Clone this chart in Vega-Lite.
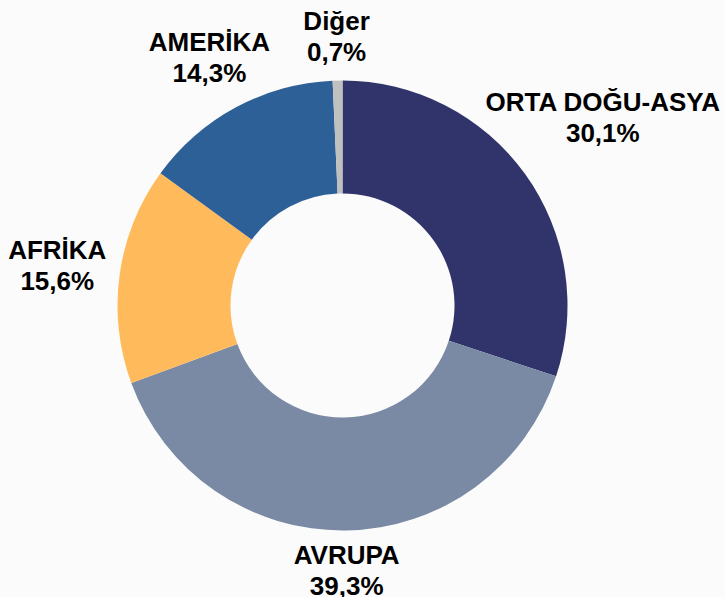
{
  "$schema": "https://vega.github.io/schema/vega-lite/v6.json",
  "autosize": {"type": "none"},
  "width": 685,
  "height": 611,
  "padding": {"left": 0, "top": 0, "right": 40, "bottom": 0},
  "background": "#fbfbfb",
  "config": {"view": {"stroke": null}},
  "data": {
    "values": [
      {"sira": 1, "bolge": "ORTA DOĞU-ASYA", "pay": 30.1, "etiket": "ORTA DOĞU-ASYA\n30,1%"},
      {"sira": 2, "bolge": "AVRUPA", "pay": 39.3, "etiket": "AVRUPA\n39,3%"},
      {"sira": 3, "bolge": "AFRİKA", "pay": 15.6, "etiket": "AFRİKA\n15,6%"},
      {"sira": 4, "bolge": "AMERİKA", "pay": 14.3, "etiket": "AMERİKA\n14,3%"},
      {"sira": 5, "bolge": "Diğer", "pay": 0.7, "etiket": "Diğer\n0,7%"}
    ]
  },
  "encoding": {
    "theta": {"field": "pay", "type": "quantitative", "stack": true},
    "order": {"field": "sira", "type": "quantitative"}
  },
  "layer": [
    {
      "mark": {"type": "arc", "outerRadius": 225, "innerRadius": 112},
      "encoding": {
        "color": {
          "field": "bolge",
          "type": "nominal",
          "legend": null,
          "scale": {
            "domain": ["ORTA DOĞU-ASYA", "AVRUPA", "AFRİKA", "AMERİKA", "Diğer"],
            "range": ["#30346b", "#7a8aa4", "#ffbb5b", "#2e6098", "#c0c0c0"]
          }
        }
      }
    },
    {
      "mark": {"type": "text", "radius": 321, "dy": -15, "font": "Liberation Sans", "fontWeight": "bold", "fontSize": 26, "lineHeight": 31, "lineBreak": "\n", "color": "#000000", "align": "center", "baseline": "middle"},
      "encoding": {"text": {"condition": {"test": "datum.bolge == 'ORTA DOĞU-ASYA'", "field": "etiket"}, "value": ""}}
    },
    {
      "mark": {"type": "text", "radius": 266, "dy": -15, "font": "Liberation Sans", "fontWeight": "bold", "fontSize": 26, "lineHeight": 31, "lineBreak": "\n", "color": "#000000", "align": "center", "baseline": "middle"},
      "encoding": {"text": {"condition": {"test": "datum.bolge == 'AVRUPA'", "field": "etiket"}, "value": ""}}
    },
    {
      "mark": {"type": "text", "radius": 288, "dy": -15, "font": "Liberation Sans", "fontWeight": "bold", "fontSize": 26, "lineHeight": 31, "lineBreak": "\n", "color": "#000000", "align": "center", "baseline": "middle"},
      "encoding": {"text": {"condition": {"test": "datum.bolge == 'AFRİKA'", "field": "etiket"}, "value": ""}}
    },
    {
      "mark": {"type": "text", "radius": 281, "dy": -15, "font": "Liberation Sans", "fontWeight": "bold", "fontSize": 26, "lineHeight": 31, "lineBreak": "\n", "color": "#000000", "align": "center", "baseline": "middle"},
      "encoding": {"text": {"condition": {"test": "datum.bolge == 'AMERİKA'", "field": "etiket"}, "value": ""}}
    },
    {
      "mark": {"type": "text", "radius": 269, "dy": -15, "font": "Liberation Sans", "fontWeight": "bold", "fontSize": 26, "lineHeight": 31, "lineBreak": "\n", "color": "#000000", "align": "center", "baseline": "middle"},
      "encoding": {"text": {"condition": {"test": "datum.bolge == 'Diğer'", "field": "etiket"}, "value": ""}}
    }
  ]
}
